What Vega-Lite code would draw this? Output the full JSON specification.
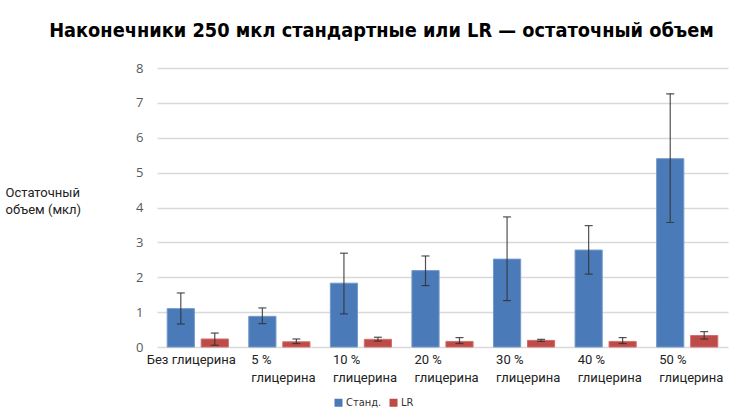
{
  "$schema": "https://vega.github.io/schema/vega-lite/v6.json",
  "width": 571,
  "height": 279,
  "autosize": "none",
  "padding": {"left": 157, "top": 68, "right": 13, "bottom": 71},
  "background": "white",
  "title": {
    "text": "Наконечники 250 мкл стандартные или LR — остаточный объем",
    "font": "DejaVu Sans Condensed",
    "fontSize": 19.8,
    "fontWeight": "bold",
    "color": "#000000",
    "anchor": "middle",
    "dx": -61,
    "offset": 21
  },
  "config": {
    "view": {"stroke": null},
    "axis": {"labelFont": "Roboto", "titleFont": "Roboto"},
    "axisY": {
      "tickCount": 8,
      "labelFont": "Open Sans",
      "labelFontSize": 13,
      "labelColor": "#595959",
      "labelPadding": 14,
      "labelOverlap": false,
      "domain": false,
      "ticks": false,
      "gridColor": "#d9d9d9",
      "gridWidth": 1.5,
      "titleAngle": 0,
      "titleAlign": "left",
      "titleBaseline": "top",
      "titleX": -152,
      "titleY": 118,
      "titleFontSize": 13,
      "titleFontWeight": "normal",
      "titleColor": "#222222",
      "titleLineHeight": 17
    }
  },
  "data": {
    "values": [
      {"cat": "Без глицерина", "series": "Станд.", "value": 1.10, "lo": 0.66, "hi": 1.55},
      {"cat": "Без глицерина", "series": "LR", "value": 0.23, "lo": 0.05, "hi": 0.40},
      {"cat": "5 % глицерина", "series": "Станд.", "value": 0.88, "lo": 0.67, "hi": 1.12},
      {"cat": "5 % глицерина", "series": "LR", "value": 0.15, "lo": 0.10, "hi": 0.23},
      {"cat": "10 % глицерина", "series": "Станд.", "value": 1.83, "lo": 0.95, "hi": 2.69},
      {"cat": "10 % глицерина", "series": "LR", "value": 0.22, "lo": 0.17, "hi": 0.28},
      {"cat": "20 % глицерина", "series": "Станд.", "value": 2.19, "lo": 1.76, "hi": 2.61},
      {"cat": "20 % глицерина", "series": "LR", "value": 0.16, "lo": 0.10, "hi": 0.27},
      {"cat": "30 % глицерина", "series": "Станд.", "value": 2.52, "lo": 1.33, "hi": 3.73},
      {"cat": "30 % глицерина", "series": "LR", "value": 0.19, "lo": 0.16, "hi": 0.22},
      {"cat": "40 % глицерина", "series": "Станд.", "value": 2.78, "lo": 2.09, "hi": 3.48},
      {"cat": "40 % глицерина", "series": "LR", "value": 0.16, "lo": 0.10, "hi": 0.27},
      {"cat": "50 % глицерина", "series": "Станд.", "value": 5.40, "lo": 3.57, "hi": 7.26},
      {"cat": "50 % глицерина", "series": "LR", "value": 0.33, "lo": 0.23, "hi": 0.44}
    ]
  },
  "encoding": {
    "x": {
      "field": "cat",
      "type": "nominal",
      "sort": null,
      "scale": {"paddingInner": 0.25, "paddingOuter": 0.125},
      "axis": {
        "title": null,
        "labelAngle": 0,
        "labelFontSize": 13,
        "labelColor": "#222222",
        "labelPadding": 6,
        "labelLineHeight": 18,
        "labelLimit": 200,
        "labelAlign": "left",
        "labelOffset": {"condition": {"test": "datum.value == 'Без глицерина'", "value": -51}, "value": -28},
        "domain": false,
        "ticks": false,
        "labelExpr": "datum.value == 'Без глицерина' ? datum.value : [replace(datum.value, ' глицерина', ''), 'глицерина']"
      }
    },
    "xOffset": {
      "field": "series",
      "type": "nominal",
      "sort": ["Станд.", "LR"],
      "scale": {"paddingInner": 0.2}
    }
  },
  "layer": [
    {
      "mark": {"type": "bar", "strokeWidth": 1},
      "encoding": {
        "y": {
          "field": "value",
          "type": "quantitative",
          "scale": {"domain": [0, 8], "nice": false, "zero": true},
          "axis": {"title": ["Остаточный", "объем (мкл)"]}
        },
        "color": {
          "field": "series",
          "type": "nominal",
          "scale": {"domain": ["Станд.", "LR"], "range": ["#4A7AB8", "#BE4B48"]},
          "legend": {
            "title": null,
            "orient": "none",
            "direction": "horizontal",
            "legendX": 176,
            "legendY": 329,
            "symbolType": "square",
            "symbolSize": 64,
            "symbolStrokeWidth": 0,
            "labelFont": "DejaVu Sans Condensed",
            "labelFontSize": 11,
            "labelColor": "#333333",
            "labelOffset": 2,
            "columnPadding": 6
          }
        },
        "stroke": {
          "field": "series",
          "type": "nominal",
          "scale": {"domain": ["Станд.", "LR"], "range": ["#7399CC", "#D0706D"]},
          "legend": null
        }
      }
    },
    {
      "mark": {"type": "rule", "color": "#333333", "strokeWidth": 1.2, "opacity": 0.85},
      "encoding": {
        "y": {"field": "lo", "type": "quantitative", "axis": {"title": ["Остаточный", "объем (мкл)"]}},
        "y2": {"field": "hi"}
      }
    },
    {
      "mark": {"type": "tick", "color": "#333333", "thickness": 1.2, "size": 8, "opacity": 0.85},
      "encoding": {
        "y": {"field": "lo", "type": "quantitative", "axis": {"title": ["Остаточный", "объем (мкл)"]}}
      }
    },
    {
      "mark": {"type": "tick", "color": "#333333", "thickness": 1.2, "size": 8, "opacity": 0.85},
      "encoding": {
        "y": {"field": "hi", "type": "quantitative", "axis": {"title": ["Остаточный", "объем (мкл)"]}}
      }
    }
  ]
}
